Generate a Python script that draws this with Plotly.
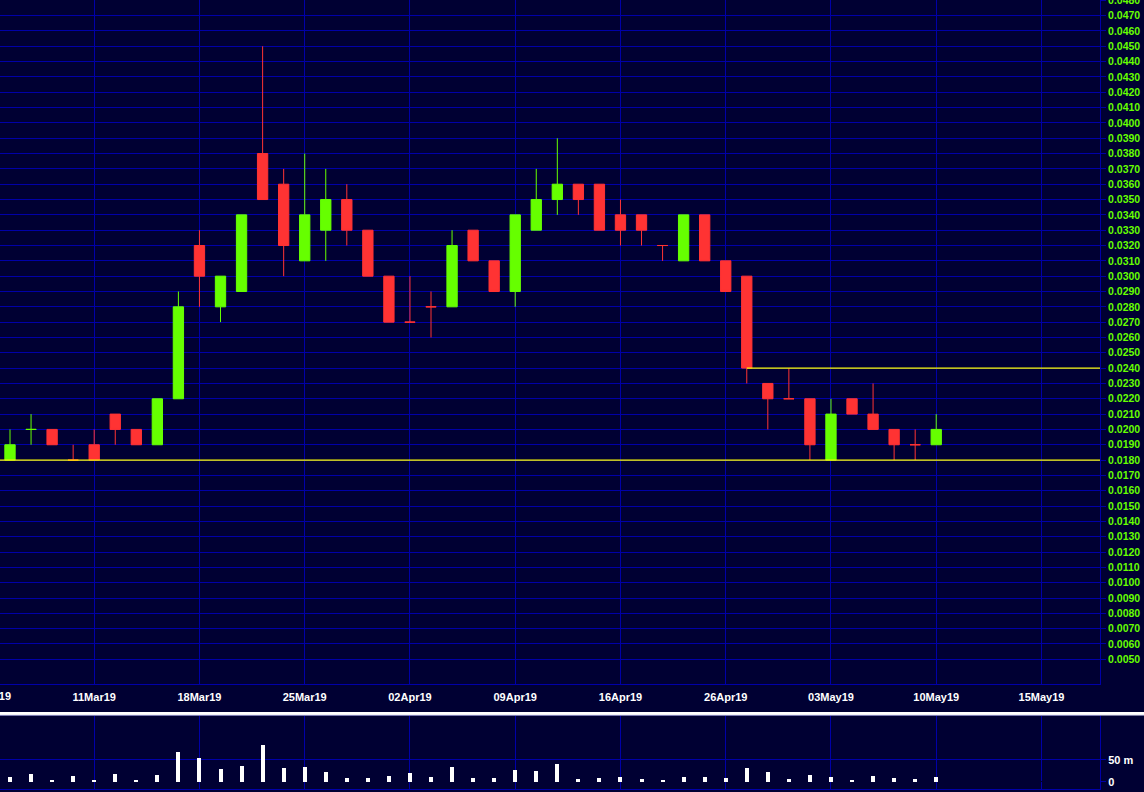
import plotly.graph_objects as go

# ---------------- data ----------------
dates = ["05Mar19", "06Mar19", "07Mar19", "08Mar19", "11Mar19", "12Mar19", "13Mar19", "14Mar19", "15Mar19",
         "18Mar19", "19Mar19", "20Mar19", "21Mar19", "22Mar19", "25Mar19", "26Mar19", "27Mar19", "28Mar19",
         "29Mar19", "02Apr19", "03Apr19", "04Apr19", "05Apr19", "08Apr19", "09Apr19", "10Apr19", "11Apr19",
         "12Apr19", "15Apr19", "16Apr19", "17Apr19", "18Apr19", "23Apr19", "24Apr19", "26Apr19", "29Apr19",
         "30Apr19", "01May19", "02May19", "03May19", "06May19", "07May19", "08May19", "09May19", "10May19"]

open_p = [0.018, 0.020, 0.020, 0.018, 0.019, 0.021, 0.020, 0.019, 0.022, 0.032,
          0.028, 0.029, 0.038, 0.036, 0.031, 0.033, 0.035, 0.033, 0.030, 0.027,
          0.028, 0.028, 0.033, 0.031, 0.029, 0.033, 0.035, 0.036, 0.036, 0.034,
          0.034, 0.032, 0.031, 0.034, 0.031, 0.030, 0.023, 0.022, 0.022, 0.018,
          0.022, 0.021, 0.020, 0.019, 0.019]
high_p = [0.020, 0.021, 0.020, 0.019, 0.020, 0.021, 0.020, 0.022, 0.029, 0.033,
          0.030, 0.034, 0.045, 0.037, 0.038, 0.037, 0.036, 0.033, 0.030, 0.030,
          0.029, 0.033, 0.033, 0.031, 0.034, 0.037, 0.039, 0.036, 0.036, 0.035,
          0.034, 0.032, 0.034, 0.034, 0.031, 0.030, 0.023, 0.024, 0.022, 0.022,
          0.022, 0.023, 0.020, 0.020, 0.021]
low_p = [0.018, 0.019, 0.019, 0.018, 0.018, 0.019, 0.019, 0.019, 0.022, 0.028,
         0.027, 0.029, 0.035, 0.030, 0.031, 0.031, 0.032, 0.030, 0.027, 0.027,
         0.026, 0.028, 0.031, 0.029, 0.028, 0.033, 0.034, 0.034, 0.033, 0.032,
         0.032, 0.031, 0.031, 0.031, 0.029, 0.023, 0.020, 0.022, 0.018, 0.018,
         0.021, 0.020, 0.018, 0.018, 0.019]
close_p = [0.019, 0.020, 0.019, 0.018, 0.018, 0.020, 0.019, 0.022, 0.028, 0.030,
           0.030, 0.034, 0.035, 0.032, 0.034, 0.035, 0.033, 0.030, 0.027, 0.027,
           0.028, 0.032, 0.031, 0.029, 0.034, 0.035, 0.036, 0.035, 0.033, 0.033,
           0.033, 0.032, 0.034, 0.031, 0.029, 0.024, 0.022, 0.022, 0.019, 0.021,
           0.021, 0.020, 0.019, 0.019, 0.020]
# volume, millions of shares
volume_m = [11, 18, 4, 14, 4, 18, 4, 16, 68, 55,
            30, 36, 84, 32, 34, 23, 9, 9, 14, 20,
            11, 34, 9, 9, 27, 25, 41, 7, 9, 11,
            7, 4, 11, 11, 9, 32, 23, 7, 16, 11,
            3, 14, 9, 7, 11]
# unchanged (doji) sessions that were drawn as up candles
green_doji_dates = ["06Mar19"]

support_level = 0.018
resistance_level = 0.024
resistance_from = "29Apr19"

tick_labels = ["04Mar19", "11Mar19", "18Mar19", "25Mar19", "02Apr19", "09Apr19",
               "16Apr19", "26Apr19", "03May19", "10May19", "15May19"]
tick_slots = [-1, 4, 9, 14, 19, 24, 29, 34, 39, 44, 49]
price_ticks = [round(0.005 + 0.001 * k, 4) for k in range(44)]

# ---------------- styling ----------------
BG = "#000033"
GRID = "#0000a8"
UP = "#66ff00"
DOWN = "#ff3333"
LBL = "#66ff00"
FONT = "Liberation Sans"

slot = list(range(len(dates)))
up_idx, dn_idx = [], []
for i in slot:
    if close_p[i] > open_p[i] or (close_p[i] == open_p[i] and dates[i] in green_doji_dates):
        up_idx.append(i)
    else:
        dn_idx.append(i)


def sub(arr, idx):
    return [arr[i] for i in idx]


fig = go.Figure()
for idx, col, name in [(up_idx, UP, "up"), (dn_idx, DOWN, "down")]:
    fig.add_trace(go.Candlestick(
        x=idx, open=sub(open_p, idx), high=sub(high_p, idx), low=sub(low_p, idx), close=sub(close_p, idx),
        text=sub(dates, idx), name=name, showlegend=False,
        increasing=dict(line=dict(color=col, width=1), fillcolor=col),
        decreasing=dict(line=dict(color=col, width=1), fillcolor=col),
        xaxis="x", yaxis="y",
    ))

fig.add_trace(go.Bar(x=slot, y=volume_m, width=0.19, marker=dict(color="white", line=dict(width=0)),
                     xaxis="x2", yaxis="y2", showlegend=False, text=dates, hoverinfo="text+y",
                     textposition="none"))

xr = [-0.475, 51.78]
MAIN_BOTTOM = 0.1331
VOL_TOP = 0.0925

fig.update_layout(
    width=1144, height=792,
    margin=dict(l=0, r=44, t=0, b=3),
    paper_bgcolor=BG, plot_bgcolor=BG,
    template="none",
    showlegend=False,
    boxgap=0.3, boxgroupgap=0.3,
    bargap=0,
    xaxis=dict(domain=[0, 1], range=xr, anchor="y", tickmode="array", tickvals=tick_slots,
               ticktext=tick_labels, showgrid=True, gridcolor=GRID, gridwidth=1,
               showline=True, linecolor=GRID, linewidth=1, ticks="", zeroline=False,
               tickfont=dict(family=FONT, size=11, color="white", weight="bold"),
               ticklabelstandoff=3, rangeslider=dict(visible=False), automargin=False),
    yaxis=dict(domain=[MAIN_BOTTOM, 1], range=[0.00339, 0.04802], side="right", anchor="x",
               tickmode="array", tickvals=price_ticks, ticktext=[f"{v:.4f}" for v in price_ticks],
               showgrid=True, gridcolor=GRID, gridwidth=1, zeroline=False,
               showline=True, linecolor=GRID, linewidth=1,
               ticks="outside", ticklen=5, tickcolor=GRID, tickwidth=1, ticklabeloverflow="allow",
               tickfont=dict(family=FONT, size=10.5, color=LBL, weight="bold"), automargin=False),
    xaxis2=dict(domain=[0, 1], range=xr, anchor="y2", matches="x", tickmode="array", tickvals=tick_slots,
                showticklabels=False, showgrid=True, gridcolor=GRID, gridwidth=1,
                showline=True, linecolor=GRID, linewidth=1, mirror=True, ticks="", zeroline=False,
                automargin=False),
    yaxis2=dict(domain=[0, VOL_TOP], range=[-16, 150], side="right", anchor="x2",
                tickmode="array", tickvals=[0, 50], ticktext=["0", "50 m"],
                showgrid=True, gridcolor=GRID, gridwidth=1,
                zeroline=True, zerolinecolor=BG, zerolinewidth=1,
                showline=True, linecolor=GRID, linewidth=1,
                ticks="outside", ticklen=5, tickcolor=GRID, tickwidth=1,
                tickfont=dict(family=FONT, size=11, color="white", weight="bold"), automargin=False),
)

# support / resistance lines
fig.add_shape(type="line", xref="x", yref="y", x0=xr[0], x1=xr[1], y0=support_level, y1=support_level,
              line=dict(color="#ffff00", width=1.4))
fig.add_shape(type="line", xref="x", yref="y", x0=dates.index(resistance_from), x1=xr[1],
              y0=resistance_level, y1=resistance_level, line=dict(color="#ffff00", width=1.4))

# separator between price and volume panels
fig.add_shape(type="line", xref="paper", yref="paper", x0=0, x1=1144 / 1100, y0=0.0957, y1=0.0957,
              line=dict(color="white", width=3))
fig.add_shape(type="line", xref="paper", yref="paper", x0=0, x1=1144 / 1100, y0=0.0933, y1=0.0933,
              line=dict(color="#8a8ab0", width=1))

# partially visible first tick label at the left edge (tick lies just left of the visible range)
first_tick_paper = (tick_slots[0] - xr[0]) / (xr[1] - xr[0])
fig.add_annotation(x=first_tick_paper, y=MAIN_BOTTOM, xref="paper", yref="paper", text=tick_labels[0],
                   showarrow=False, xanchor="center", yanchor="middle", yshift=-12,
                   font=dict(family=FONT, size=11, color="white", weight="bold"))

fig.write_html("out.html",
               config={"displayModeBar": False},
               post_script="document.body.style.margin='0px';document.body.style.padding='0px';"
                           "document.body.style.overflow='hidden';"
                           "document.body.style.background='" + BG + "';")
